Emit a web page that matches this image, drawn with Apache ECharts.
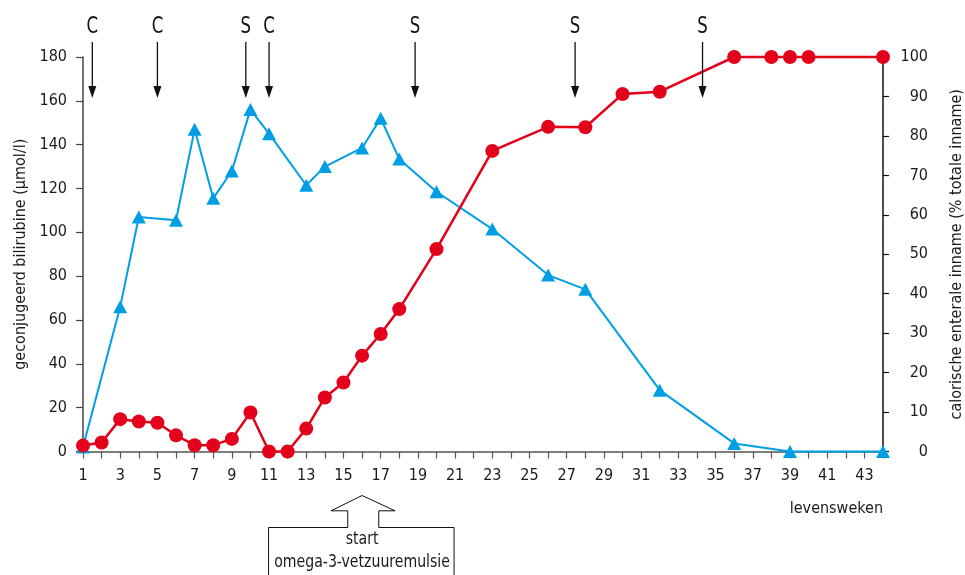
<!DOCTYPE html>
<html>
<head>
<meta charset="utf-8">
<script src="https://cdn.jsdelivr.net/npm/echarts@6/dist/echarts.min.js"></script>
<style>
html,body{margin:0;padding:0;background:#fff;}
#chart{width:965px;height:575px;}
</style>
</head>
<body>
<div id="chart"></div>
<script>
// ---- data ----
const weeksBili = [1, 3, 4, 6, 7, 8, 9, 10, 11, 13, 14, 16, 17, 18, 20, 23, 26, 28, 32, 36, 39, 44];
const bilirubin = [2, 66, 107, 105.5, 147, 115.5, 128, 156, 145, 121.5, 130, 138.5, 152, 133.5, 118.5, 101.5, 80.5, 74, 28, 3.7, 0, 0];

const weeksCal = [1, 2, 3, 4, 5, 6, 7, 8, 9, 10, 11, 12, 13, 14, 15, 16, 17, 18, 20, 23, 26, 28, 30, 32, 36, 38, 39, 40, 44];
const calories = [1.5, 2.3, 8.2, 7.6, 7.3, 4.1, 1.6, 1.6, 3.2, 9.9, 0, 0, 5.8, 13.7, 17.5, 24.3, 29.8, 36.1, 51.3, 76.2, 82.3, 82.2, 90.6, 91.2, 100, 100, 100, 100, 100];

const eventWeeks = [1.5, 5, 9.75, 11, 18.85, 27.45, 34.3];
const eventLabels = ['C', 'C', 'S', 'C', 'S', 'S', 'S'];

const startWeek = [16];
const startText = ['start', 'omega-3-vetzuuremulsie'];

const xName = 'levensweken';
const yLeftName = 'geconjugeerd bilirubine (\u00b5mol/l)';
const yRightName = 'calorische enterale inname (% totale inname)';

// ---- chart ----
const FONT = '"Liberation Sans Narrow", "DejaVu Sans Condensed", "Open Sans", sans-serif';
const TXT = '#1a1a1a';
const BLUE = '#009fe3';
const RED = '#e2001a';

const chart = echarts.init(document.getElementById('chart'), null, {renderer: 'canvas'});

const option = {
  backgroundColor: '#fff',
  animation: false,
  textStyle: {fontFamily: FONT, color: TXT},
  grid: {left: 83, right: 82, top: 57, bottom: 123.5, containLabel: false, outerBoundsMode: 'none'},
  xAxis: {
    type: 'value', min: 1, max: 44, interval: 1,
    name: xName, nameLocation: 'end', nameGap: 0,
    nameTextStyle: {fontFamily: FONT, fontSize: 16, color: TXT, align: 'right', verticalAlign: 'top', padding: [49, 0, 0, 0]},
    axisLine: {show: true, onZero: false, lineStyle: {color: '#555', width: 1.5}},
    axisTick: {show: true, inside: false, length: 7, lineStyle: {color: '#555', width: 1.2}},
    axisLabel: {
      fontFamily: FONT, fontSize: 16, color: TXT, margin: 16,
      formatter: v => (v % 2 === 1 ? String(v) : '')
    },
    splitLine: {show: false}
  },
  yAxis: [
    {
      type: 'value', min: 0, max: 180, interval: 20, position: 'left',
      name: yLeftName, nameLocation: 'middle', nameGap: 54,
      nameTextStyle: {fontFamily: FONT, fontSize: 16, color: TXT},
      axisLine: {show: true, onZero: false, lineStyle: {color: '#444', width: 1.5}},
      axisTick: {show: true, length: 7, lineStyle: {color: '#444', width: 1.2}},
      axisLabel: {fontFamily: FONT, fontSize: 16, color: TXT, margin: 16},
      splitLine: {show: false}
    },
    {
      type: 'value', min: 0, max: 100, interval: 10, position: 'right',
      name: yRightName, nameLocation: 'middle', nameGap: 66,
      nameTextStyle: {fontFamily: FONT, fontSize: 16, color: TXT},
      axisLine: {show: true, onZero: false, lineStyle: {color: '#111', width: 1.5}},
      axisTick: {show: true, length: 6, lineStyle: {color: '#111', width: 1.2}},
      axisLabel: {fontFamily: FONT, fontSize: 16, color: TXT, margin: 45, align: 'right'},
      splitLine: {show: false}
    }
  ],
  series: [
    {
      name: 'bilirubine', type: 'line', yAxisIndex: 0,
      data: weeksBili.map((w, i) => [w, bilirubin[i]]),
      symbol: 'triangle', symbolSize: [14, 13], clip: false,
      lineStyle: {color: BLUE, width: 2},
      itemStyle: {color: BLUE},
      z: 3
    },
    {
      name: 'calorie', type: 'line', yAxisIndex: 1,
      data: weeksCal.map((w, i) => [w, calories[i]]),
      symbol: 'circle', symbolSize: 14, clip: false,
      lineStyle: {color: RED, width: 2.5},
      itemStyle: {color: RED},
      z: 4
    },
    {
      name: 'events', type: 'custom', xAxisIndex: 0, yAxisIndex: 0, clip: false, silent: true,
      data: eventWeeks.map((w, i) => [w, i]),
      renderItem: function (params, api) {
        const p = api.coord([api.value(0), 180]);
        const label = eventLabels[api.value(1)];
        return {
          type: 'group',
          children: [
            {type: 'line', shape: {x1: p[0], y1: p[1] - 15, x2: p[0], y2: p[1] + 30},
             style: {stroke: '#111', lineWidth: 1.3}},
            {type: 'polygon', shape: {points: [[p[0] - 4, p[1] + 29], [p[0] + 4, p[1] + 29], [p[0], p[1] + 41]]},
             style: {fill: '#111'}},
            {type: 'text', x: p[0], y: p[1] - 30, scaleX: 0.8,
             style: {text: label, fontFamily: FONT, fontSize: 23, fill: '#111', align: 'center', verticalAlign: 'middle'}}
          ]
        };
      },
      z: 5
    },
    {
      name: 'start', type: 'custom', xAxisIndex: 0, yAxisIndex: 0, clip: false, silent: true,
      data: startWeek.map(w => [w, 0]),
      renderItem: function (params, api) {
        const p = api.coord([api.value(0), 0]);
        const x = p[0], y = p[1] + 44;
        const pts = [
          [0, 0], [33, 15.3], [16.7, 15.3], [16.7, 32], [92, 32], [92, 90],
          [-93.5, 90], [-93.5, 32], [-14.3, 32], [-14.3, 15.3], [-31, 15.3]
        ].map(q => [x + q[0], y + q[1]]);
        return {
          type: 'group',
          children: [
            {type: 'polygon', shape: {points: pts}, style: {fill: '#fff', stroke: '#111', lineWidth: 1}},
            {type: 'text', x: x, y: y + 44, scaleX: 0.87,
             style: {text: startText[0], fontFamily: FONT, fontSize: 18, fill: TXT, align: 'center', verticalAlign: 'middle'}},
            {type: 'text', x: x, y: y + 67, scaleX: 0.87,
             style: {text: startText[1], fontFamily: FONT, fontSize: 18, fill: TXT, align: 'center', verticalAlign: 'middle'}}
          ]
        };
      },
      z: 5
    }
  ]
};
chart.setOption(option);
</script>
</body>
</html>
